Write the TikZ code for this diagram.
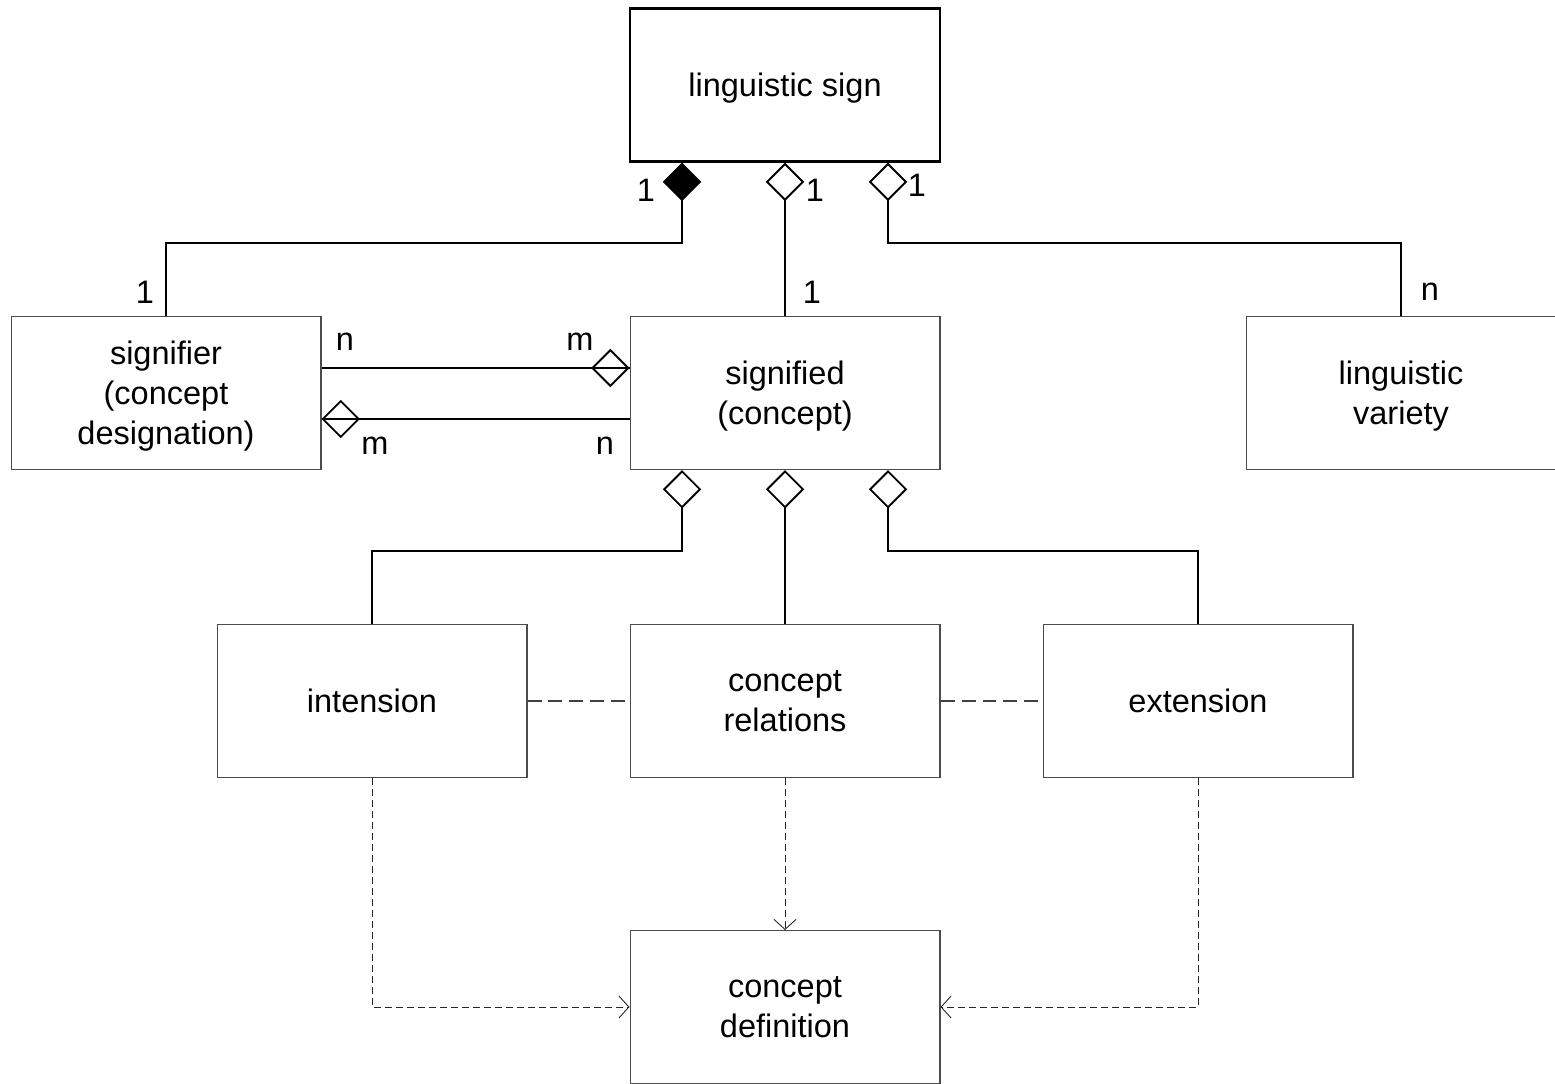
\documentclass[tikz,border=0pt]{standalone}
\usepackage{fontspec}
\setmainfont{Liberation Sans}
\usetikzlibrary{arrows.meta,calc}

\begin{document}
\begin{tikzpicture}[x=0.02cm,y=-0.02cm,
	box/.style={draw=black!70,line width=0.6pt,minimum width=6.2cm,minimum height=3.06cm,
		inner sep=0pt,text depth=0pt,align=center,font=\fontsize{18.5}{22.7}\selectfont},
	lbl/.style={inner sep=0pt,font=\fontsize{18.5}{22.7}\selectfont},
	conn/.style={line width=1.1pt},
	agg/.style={conn,-{Diamond[open,length=0.77cm,width=0.77cm]}},
	comp/.style={conn,-{Diamond[length=0.77cm,width=0.77cm]}},
	link/.style={black!75,line width=0.8pt,dash pattern=on 0.28cm off 0.14cm},
	dep/.style={black!85,line width=0.5pt,dash pattern=on 0.14cm off 0.08cm,
		-{Straight Barb[length=0.2cm,width=0.44cm,line width=0.5pt]}}]
	\useasboundingbox (0,0) rectangle (1555,1084);
	\node[box,draw=black,line width=1.4pt] (sign) at (785,85) {linguistic sign};
	\node[box] (signifier) at (166,393) {signifier\\(concept\\designation)};
	\node[box] (signified) at (785,393) {signified\\(concept)};
	\node[box] (variety) at (1401,393) {linguistic\\variety};
	\node[box] (intension) at (372,701) {intension};
	\node[box] (relations) at (785,701) {concept\\relations};
	\node[box] (extension) at (1198,701) {extension};
	\node[box] (definition) at (785,1007) {concept\\definition};
	% parts of the sign
	\draw[comp] (signifier.north) -- ++(0,-73) -| ($(sign.south)+(-103,0)$);
	\draw[agg] (signified.north) -- (sign.south);
	\draw[agg] (variety.north) -- ++(0,-73) -| ($(sign.south)+(103,0)$);
	\node[lbl] (c1) at (646,190) {1};
	\node[lbl] (c2) at (815,190) {1};
	\node[lbl] (c3) at (917,185) {1};
	\node[lbl] (c4) at (145,292) {1};
	\node[lbl] (c5) at (812,292) {1};
	\node[lbl] (c6) at (1430,292) {n};
	% signifier <-> signified
	\draw[conn] ($(signifier.east)+(0,-25)$) -- ($(signified.west)+(0,-25)$);
	\draw[agg] ($(signifier.east)+(0,-25)$) -- ($(signified.west)+(0,-25)$);
	\draw[conn] ($(signified.west)+(0,26)$) -- ($(signifier.east)+(0,26)$);
	\draw[agg] ($(signified.west)+(0,26)$) -- ($(signifier.east)+(0,26)$);
	\node[lbl] (c7) at (345,342) {n};
	\node[lbl] (c8) at (580,342) {m};
	\node[lbl] (c9) at (375,446) {m};
	\node[lbl] (c10) at (605,446) {n};
	% parts of the concept
	\draw[agg] (intension.north) -- ++(0,-73) -| ($(signified.south)+(-103,0)$);
	\draw[agg] (relations.north) -- (signified.south);
	\draw[agg] (extension.north) -- ++(0,-73) -| ($(signified.south)+(103,0)$);
	\draw[link] (intension.east) -- (relations.west);
	\draw[link] (relations.east) -- (extension.west);
	% definition
	\draw[dep] (intension.south) |- (definition.west);
	\draw[dep] (relations.south) -- (definition.north);
	\draw[dep] (extension.south) |- (definition.east);
\end{tikzpicture}
\end{document}
